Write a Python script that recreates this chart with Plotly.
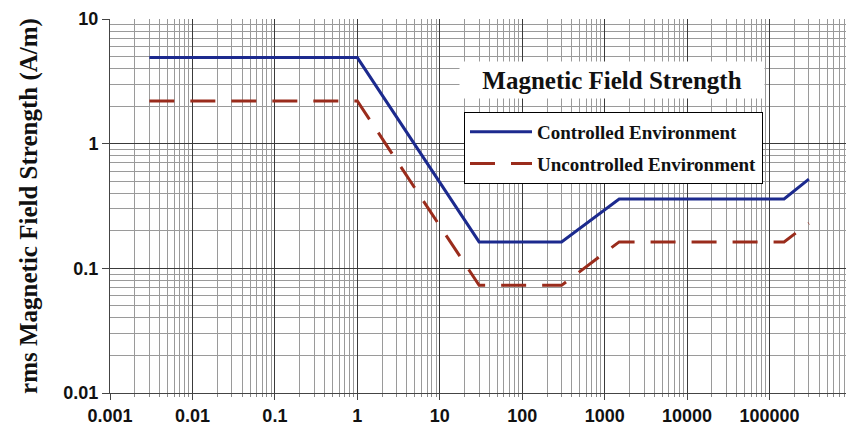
import plotly.graph_objects as go

# Data
freq_controlled = [0.003, 1, 30, 300, 1500, 150000, 300000]
h_controlled = [4.9, 4.9, 0.163, 0.163, 0.36, 0.36, 0.52]

freq_uncontrolled = [0.003, 1, 30, 300, 1500, 150000, 300000]
h_uncontrolled = [2.2, 2.2, 0.073, 0.073, 0.163, 0.163, 0.23]

x_tick_vals = [0.001, 0.01, 0.1, 1, 10, 100, 1000, 10000, 100000, 1000000]
x_tick_text = ["0.001", "0.01", "0.1", "1", "10", "100", "1000", "10000", "100000", ""]
y_tick_vals = [0.01, 0.1, 1, 10]
y_tick_text = ["0.01", "0.1", "1", "10"]

serif = "Liberation Serif, Times New Roman, serif"
sans = "Liberation Sans, Arial, sans-serif"

fig = go.Figure()
fig.add_trace(go.Scatter(
    x=freq_controlled, y=h_controlled, mode="lines",
    name="Controlled Environment", legendgroup="a",
    line=dict(color="#1c2a8e", width=3),
))
fig.add_trace(go.Scatter(
    x=freq_uncontrolled, y=h_uncontrolled, mode="lines",
    name="Uncontrolled Environment", legendgroup="b",
    line=dict(color="#9a2c1c", width=3, dash="25px,16px"),
))

fig.update_layout(
    width=846, height=427,
    margin=dict(l=102, r=2, t=11, b=42),
    paper_bgcolor="white", plot_bgcolor="white",
    showlegend=True,
    legend=dict(
        x=(464 - 110) / 742, y=(393 - 112) / 374, xanchor="left", yanchor="top",
        bgcolor="white", bordercolor="black", borderwidth=1,
        font=dict(family=serif, size=19, color="#111", weight="bold"),
        tracegroupgap=4, itemwidth=62,
    ),
    annotations=[dict(
        text="Magnetic Field Strength", xref="paper", yref="paper",
        x=(612 - 110) / 742, y=(393 - 80) / 374, xanchor="center", yanchor="middle",
        showarrow=False, bgcolor="white", width=302, height=34,
        font=dict(family=serif, size=25, color="#111", weight="bold"),
    )],
)

fig.update_xaxes(
    type="log", range=[-3, 6],
    tickvals=x_tick_vals, ticktext=x_tick_text,
    ticks="outside", ticklen=6, tickcolor="#444",
    showgrid=True, gridcolor="#3a3a3a", gridwidth=1,
    showline=True, linecolor="#444", linewidth=1,
    tickfont=dict(family=sans, size=18, color="#111", weight="bold"),
    minor=dict(dtick="D1", showgrid=True, gridcolor="#9a9a9a", gridwidth=1,
               ticks="outside", ticklen=3, tickcolor="#888"),
    zeroline=False,
)
fig.update_yaxes(
    type="log", range=[-2, 1],
    tickvals=y_tick_vals, ticktext=y_tick_text,
    ticks="outside", ticklen=7, tickcolor="#444",
    showgrid=True, gridcolor="#3a3a3a", gridwidth=1,
    showline=True, linecolor="#444", linewidth=1,
    tickfont=dict(family=sans, size=18, color="#111", weight="bold"),
    minor=dict(dtick="D1", showgrid=True, gridcolor="#9a9a9a", gridwidth=1),
    title=dict(text="rms Magnetic Field Strength (A/m)", standoff=18,
               font=dict(family=serif, size=25, color="#111", weight="bold")),
    zeroline=False,
)

fig.write_html("out.html")
